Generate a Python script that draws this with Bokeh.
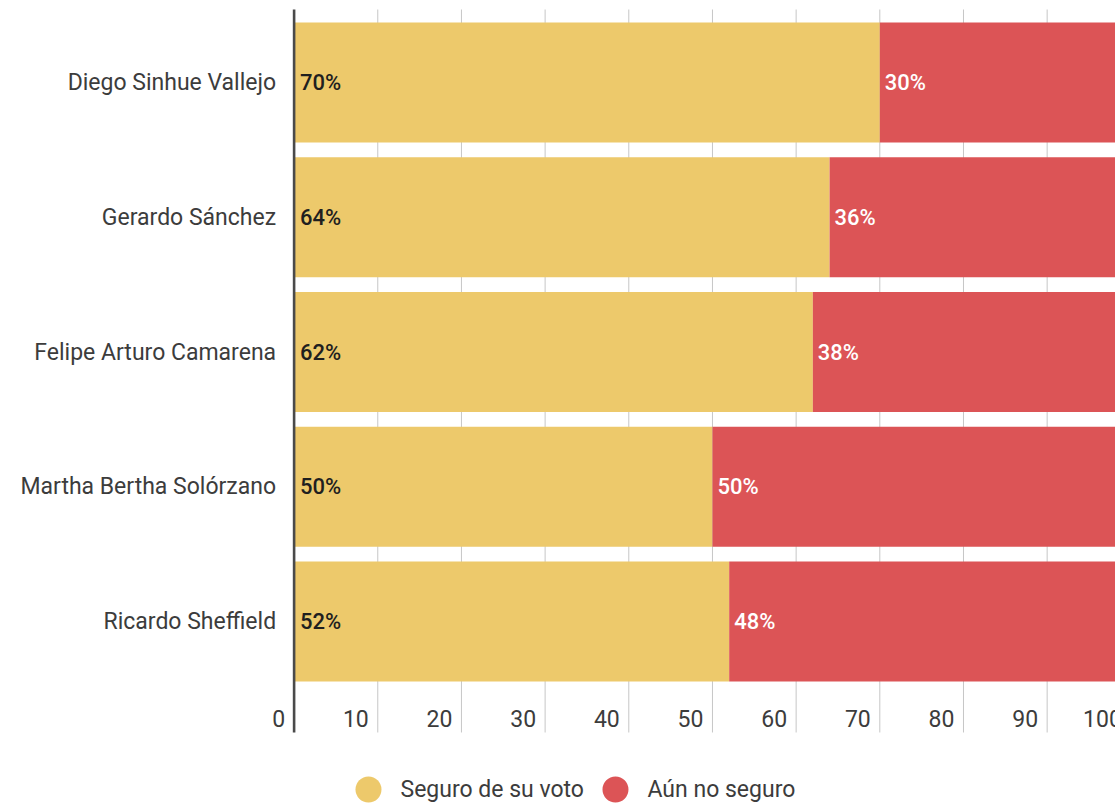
from bokeh.plotting import figure
from bokeh.models import Range1d, ColumnDataSource
from bokeh.core.properties import value
from bokeh.embed import file_html
from bokeh.resources import INLINE

# ---- data ----
candidates = ["Diego Sinhue Vallejo", "Gerardo Sánchez", "Felipe Arturo Camarena",
              "Martha Bertha Solórzano", "Ricardo Sheffield"]
seguro = [70, 64, 62, 50, 52]
no_seguro = [30, 36, 38, 50, 48]
x_ticks = [0, 10, 20, 30, 40, 50, 60, 70, 80, 90, 100]
series_names = ["Seguro de su voto", "Aún no seguro"]
series_colors = ["#EDC96B", "#DC5456"]

FONT = value("Roboto")
FONT_MED = value("Roboto Medium")
TXT = "#3c3c3c"

idx = list(range(len(candidates)))
src = ColumnDataSource(dict(
    y=idx,
    name=candidates,
    seg=seguro,
    noseg=no_seguro,
    total=[a + b for a, b in zip(seguro, no_seguro)],
    seg_lbl=[f"{v}%" for v in seguro],
    noseg_lbl=[f"{v}%" for v in no_seguro],
))

p = figure(width=1115, height=803,
           x_range=Range1d(-35.09, 98.17), y_range=Range1d(5.3506, -0.6085),
           x_axis_type=None, y_axis_type=None,
           toolbar_location=None, output_backend="svg", min_border=0)
p.outline_line_color = None
p.grid.visible = False
p.background_fill_color = "white"

# plot-area extents (data units along y)
grid_top, grid_bottom = -0.5417, 4.8237
tick_label_y = 4.72

# vertical grid lines
gx = x_ticks[1:]
p.segment(x0=gx, x1=gx, y0=[grid_top] * len(gx), y1=[grid_bottom] * len(gx),
          line_color="#c6c6c6", line_width=1)

# stacked bars
p.hbar(y="y", left=0, right="seg", height=0.89, source=src,
       fill_color=series_colors[0], line_color=None)
p.hbar(y="y", left="seg", right="total", height=0.89, source=src,
       fill_color=series_colors[1], line_color=None)

# axis line at 0
p.segment(x0=[x_ticks[0]], x1=[x_ticks[0]], y0=[grid_top], y1=[grid_bottom],
          line_color="#4a4a4a", line_width=2.6)

# category labels
p.text(x=0, y="y", text="name", source=src, text_align="right", text_baseline="middle",
       x_offset=-18, text_font=FONT, text_font_size="23px", text_color=TXT)

# value labels
p.text(x=0, y="y", text="seg_lbl", source=src, text_align="left", text_baseline="middle",
       x_offset=6, text_font=FONT_MED, text_font_size="22px",
       text_color="#1f1f1f")
p.text(x="seg", y="y", text="noseg_lbl", source=src, text_align="left", text_baseline="middle",
       x_offset=5, text_font=FONT_MED, text_font_size="22px",
       text_color="white")

# x tick labels
p.text(x=x_ticks, y=[tick_label_y] * len(x_ticks), text=[str(t) for t in x_ticks],
       text_align="right", text_baseline="middle", x_offset=-9,
       text_font=FONT, text_font_size="23px", text_color=TXT)

# legend
leg_y = 5.2467
leg_x = [8.89, 38.41]
p.scatter(x=leg_x, y=[leg_y] * 2, size=26, marker="circle",
          fill_color=series_colors, line_color=None)
p.text(x=leg_x, y=[leg_y] * 2, text=series_names, text_align="left", text_baseline="middle",
       x_offset=32, text_font=FONT, text_font_size="23px", text_color=TXT)

open("out.html", "w").write(file_html(p, INLINE))
